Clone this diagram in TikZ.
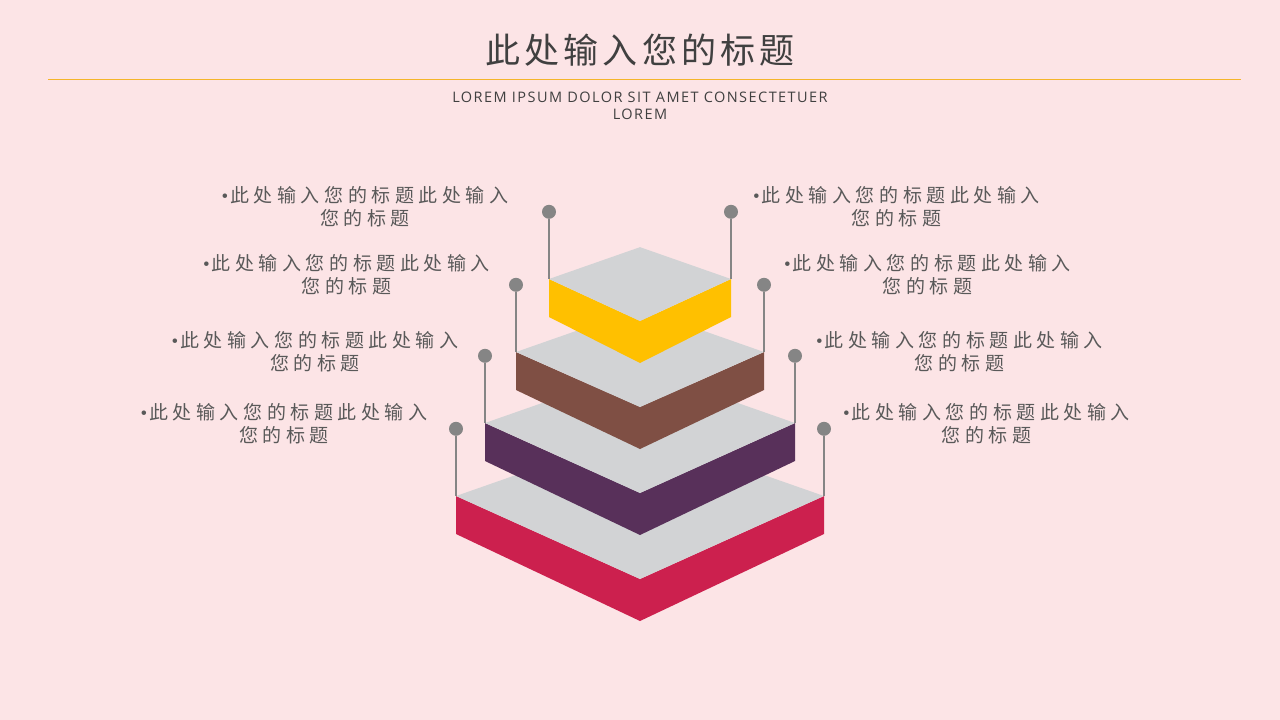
\documentclass[tikz,border=0pt]{standalone}
\usepackage{fontspec}
\usepackage{xcolor}
\usepackage{tikz}
\usetikzlibrary{positioning}
\setmainfont{Liberation Serif}
\newfontfamily\cjklabel[LetterSpace=24]{Noto Sans CJK SC}
\newfontfamily\cjktitle[LetterSpace=12]{Noto Sans CJK SC}
\newfontfamily\subfont[LetterSpace=10]{Open Sans}
\newcommand{\dotmark}{{\rmfamily•}\hspace{2pt}}

\definecolor{bgpink}{HTML}{FCE4E6}
\definecolor{facegray}{HTML}{D2D3D5}
\definecolor{layred}{HTML}{CC204E}
\definecolor{laypurple}{HTML}{58305A}
\definecolor{laybrown}{HTML}{7F4F44}
\definecolor{layyellow}{HTML}{FFC000}
\definecolor{pingray}{HTML}{858585}
\definecolor{labelgray}{HTML}{595959}
\definecolor{rulegold}{HTML}{F5B52A}

\tikzset{
  pindot/.style={circle, fill=pingray, inner sep=0pt, minimum size=14pt},
  pinline/.style={draw=pingray, line width=1.2pt},
  itemlabel/.style={text=labelgray, align=center, font=\cjklabel\fontsize{19}{23}\selectfont, inner sep=0pt}
}

\begin{document}
\begin{tikzpicture}[x=1pt, y=-1pt, line join=round]
                % background
                \fill[bgpink] (0,0) rectangle (1280,720);
                \useasboundingbox (0,0) rectangle (1280,720);

                % title
                \node[text=black!75, font=\cjktitle\fontsize{35}{40}\selectfont] (title) at (640,50) {此处输入您的标题};
                \coordinate (r1) at (48,79);
                \coordinate (r2) at (1241,79);
                \draw[rulegold, line width=0.8pt] (r1) -- (r2);
                \node[text=black!75, align=center, font=\subfont\fontsize{14.5}{17}\selectfont, inner sep=0pt] (subtitle) at (640,105.5) {LOREM IPSUM DOLOR SIT AMET CONSECTETUER\\LOREM};

                % layers, bottom to top
                \foreach \nm/\w/\ys/\yf/\col in {red/184/496/579/layred, purple/155/423/493/laypurple, brown/124/352/407/laybrown, yellow/91/279/321/layyellow}{
                  \fill[\col] (640-\w,\ys) -- (640,\yf) -- (640+\w,\ys) -- (640+\w,\ys+38) -- (640,\yf+42) -- (640-\w,\ys+38) -- cycle;
                  \fill[facegray] (640-\w,\ys) -- (640,\ys-0.35*\w) -- (640+\w,\ys) -- (640,\yf) -- cycle;
                  \coordinate (\nm L) at (640-\w,\ys);
                  \coordinate (\nm R) at (640+\w,\ys);
                }

                % pins
                \foreach \nm in {yellow, brown, purple, red}{
                  \node[pindot, above=60pt of \nm L] (pin\nm L) {};
                  \node[pindot, above=60pt of \nm R] (pin\nm R) {};
                  \draw[pinline] (pin\nm L) -- (\nm L);
                  \draw[pinline] (pin\nm R) -- (\nm R);
                }

                % labels
                \node[itemlabel] (labyellowL) at (365,207) {\dotmark{}此处输入您的标题此处输入\\您的标题};
                \node[itemlabel] (labyellowR) at (896.5,207) {\dotmark{}此处输入您的标题此处输入\\您的标题};
                \node[itemlabel] (labbrownL) at (346.5,274.5) {\dotmark{}此处输入您的标题此处输入\\您的标题};
                \node[itemlabel] (labbrownR) at (927.5,274.5) {\dotmark{}此处输入您的标题此处输入\\您的标题};
                \node[itemlabel] (labpurpleL) at (315,351.5) {\dotmark{}此处输入您的标题此处输入\\您的标题};
                \node[itemlabel] (labpurpleR) at (959.5,351.5) {\dotmark{}此处输入您的标题此处输入\\您的标题};
                \node[itemlabel] (labredL) at (284,423.5) {\dotmark{}此处输入您的标题此处输入\\您的标题};
                \node[itemlabel] (labredR) at (986.5,423.5) {\dotmark{}此处输入您的标题此处输入\\您的标题};
\end{tikzpicture}
\end{document}
